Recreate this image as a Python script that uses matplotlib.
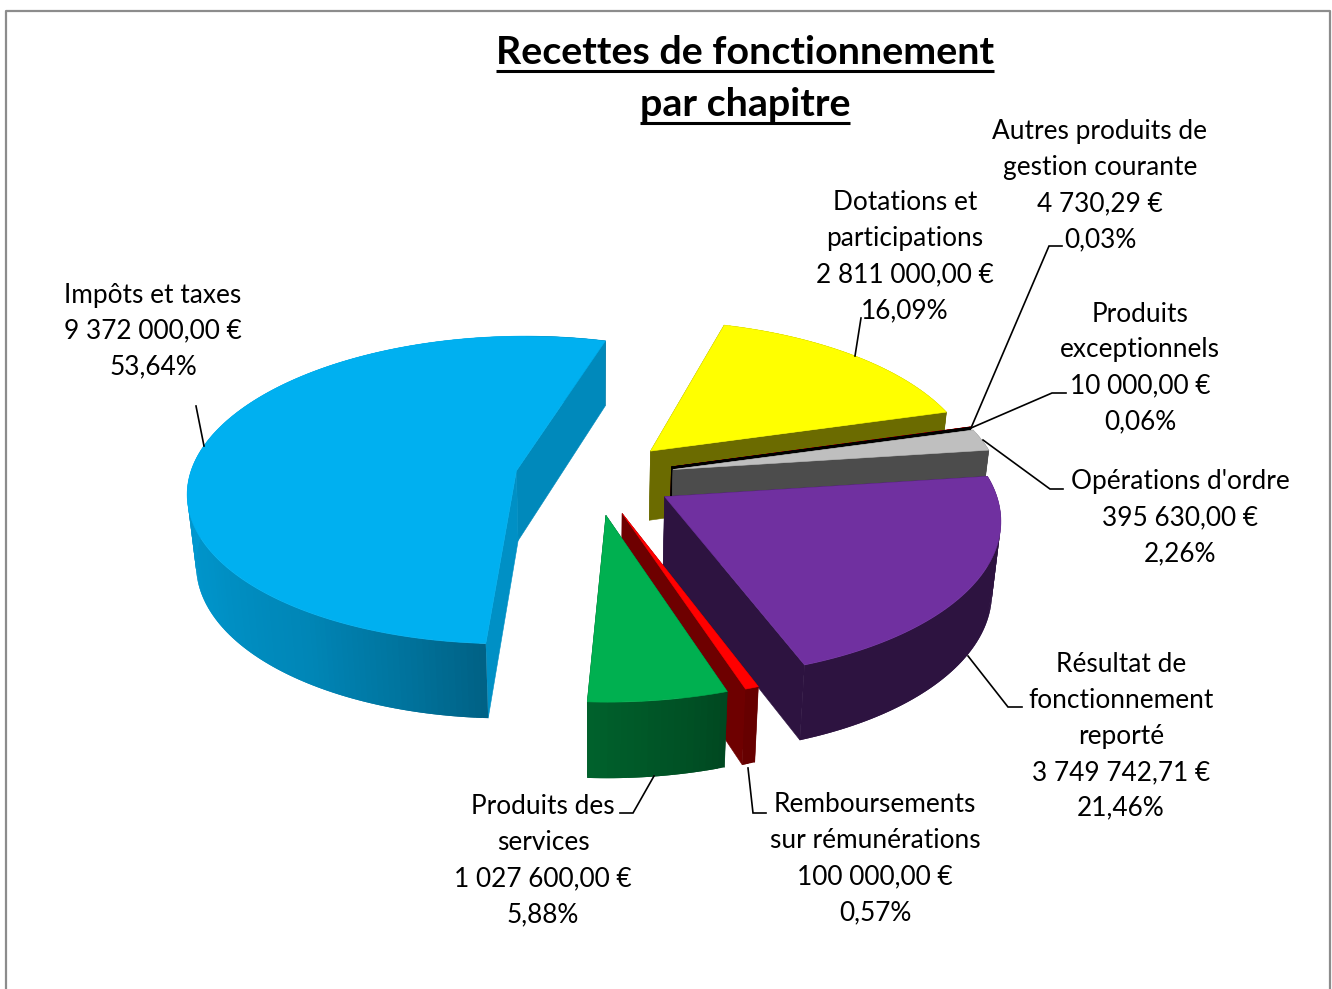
import numpy as np
import matplotlib
matplotlib.use('Agg')
import matplotlib.pyplot as plt
from matplotlib.colors import to_rgb

# chart data, clockwise from the front of the pie
chapitres = ['Impôts et taxes', 'Dotations et participations', 'Autres produits de gestion courante',
             'Produits exceptionnels', "Opérations d'ordre", 'Résultat de fonctionnement reporté',
             'Remboursements sur rémunérations', 'Produits des services']
montants = [9372000.00, 2811000.00, 4730.29, 10000.00, 395630.00, 3749742.71, 100000.00, 1027600.00]
couleurs = ['#00b0f0', '#ffff00', '#c00000', '#000000', '#bfbfbf', '#7030a0', '#ff0000', '#00b050']

titre = ['Recettes de fonctionnement', 'par chapitre']
etiquettes = [
    ['Impôts et taxes', '9 372 000,00 €', '53,64%'],
    ['Dotations et', 'participations', '2 811 000,00 €', '16,09%'],
    ['Autres produits de', 'gestion courante', '4 730,29 €', '0,03%'],
    ['Produits', 'exceptionnels', '10 000,00 €', '0,06%'],
    ["Opérations d'ordre", '395 630,00 €', '2,26%'],
    ['Résultat de', 'fonctionnement', 'reporté', '3 749 742,71 €', '21,46%'],
    ['Remboursements', 'sur rémunérations', '100 000,00 €', '0,57%'],
    ['Produits des', 'services', '1 027 600,00 €', '5,88%'],
]

# layout of the labels and leader lines, in pixels
pos_etiquettes = [(153, 295), (905, 203), (1100, 132), (1140, 314), (1180, 482), (1121, 665), (875, 805), (543, 807)]
leaders = [
    [(196, 406), (204, 446)],
    [(861, 318), (855, 356)],
    [(1062, 246), (1049, 246), (971, 428)],
    [(1066, 393), (1052, 393), (971, 428)],
    [(1063, 489), (1050, 489), (983, 440)],
    [(1022, 707), (1008, 707), (968, 656)],
    [(766, 813), (753, 813), (748, 768)],
    [(620, 813), (633, 813), (654, 776)],
]

# view of the pie
CX, CY = 595, 477
R, T, D = 327, 153, 70
PERSP = 0.125
EXPLODE = 0.245
START = 3
SHRINK = 0.022


def project(x, y, z):
    s = 1 / (1 + PERSP * y)
    px = x * R * s * (1 + SHRINK * z)
    py = -y * T * s - z * D * (1 - 0.07 * y)
    return CX + px, CY + py


def disc_point(phi):
    a = np.radians(phi)
    return -np.sin(a), -np.cos(a)


def shade(color, f):
    return tuple(c * f for c in to_rgb(color))


def rim_factor(phi):
    p = (phi + 180) % 360 - 180
    return np.interp(p, [-90, -19, -15, 5, 15, 33, 60, 90, 180],
                     [0.40, 0.40, 0.44, 0.57, 0.65, 0.76, 0.83, 0.87, 0.87])


def poly(ax, pts, color, z, edge=True):
    xs, ys = zip(*pts)
    ax.fill(xs, ys, facecolor=color, edgecolor=color if edge else 'none', linewidth=0.4, zorder=z)


def draw_slice(ax, a0, a1, color, z, fsides=(0.42, 0.42)):
    mid = (a0 + a1) / 2
    ox, oy = disc_point(mid)
    ox, oy = ox * EXPLODE, oy * EXPLODE
    n = max(int(a1 - a0), 2)
    phis = np.linspace(a0, a1, n + 1)

    def pt(phi, r, zz):
        dx, dy = disc_point(phi)
        return project(ox + r * dx, oy + r * dy, zz)

    def rim(p0, p1, f, zz):
        poly(ax, [pt(p0, 1, 0), pt(p1, 1, 0), pt(p1, 1, -1), pt(p0, 1, -1)], shade(color, f), zz, edge=False)

    # back part of the rim first, it only peeks out at the silhouette
    back = [k for k in range(n) if np.cos(np.radians(phis[k] + 0.5)) <= 0]
    front = [k for k in range(n) if k not in back]
    for k in back:
        rim(phis[k], phis[min(k + 2, n)], rim_factor(phis[k]), z)

    faces = []
    for i, phi in enumerate((a0, a1)):
        faces.append((oy + 0.5 * disc_point(phi)[1], phi, fsides[i]))
    for _, phi, f in sorted(faces, key=lambda t: -t[0]):
        poly(ax, [pt(phi, 0, 0), pt(phi, 1, 0), pt(phi, 1, -1), pt(phi, 0, -1)], shade(color, f), z + 0.05)

    # segments overlap the next one so no seam shows through
    for k in front:
        rim(phis[k], phis[min(k + 2, n)], rim_factor(phis[k]), z + 0.1)

    top = [pt(0, 0, 0)] + [pt(p, 1, 0) for p in phis]
    poly(ax, top, color, z + 0.2)


fig = plt.figure(figsize=(13.32, 9.89), dpi=100)
ax = fig.add_axes([0, 0, 1, 1])
ax.set_xlim(0, 1332)
ax.set_ylim(989, 0)
ax.axis('off')

ax.plot([6, 6, 1330, 1330], [989, 11, 11, 989], color='#8c8c8c', lw=1.6, zorder=0)

angles = np.cumsum([0] + [m / sum(montants) * 360 for m in montants]) + START
cotes = {0: (0.82, 0.78), 1: (0.42, 0.42), 4: (0.40, 0.40), 5: (0.40, 0.40), 6: (0.43, 0.43), 7: (0.40, 0.40)}
for i in range(len(montants)):
    draw_slice(ax, angles[i], angles[i + 1], couleurs[i], 2 + i, fsides=cotes.get(i, (0.42, 0.42)))

police = 'Lato'
for lignes, (x, y) in zip(etiquettes, pos_etiquettes):
    for n, ligne in enumerate(lignes):
        ax.text(x, y + n * 35.8, ligne, ha='center', va='center', fontsize=18.9, family=police, color='black', zorder=20)

for pts in leaders:
    xs, ys = zip(*pts)
    ax.plot(xs, ys, color='black', lw=1.2, zorder=19, solid_joinstyle='miter')

fig.canvas.draw()
for ligne, y in zip(titre, (53, 105)):
    t = ax.text(745, y, ligne, ha='center', va='center', fontsize=28.4, fontweight='bold', family=police, color='black', zorder=20)
    bb = t.get_window_extent(fig.canvas.get_renderer())
    ax.plot([bb.x0, bb.x1], [y + 17.5, y + 17.5], color='black', lw=2.2, zorder=20, solid_capstyle='butt')

fig.savefig('out.png', dpi=100)
plt.close(fig)
